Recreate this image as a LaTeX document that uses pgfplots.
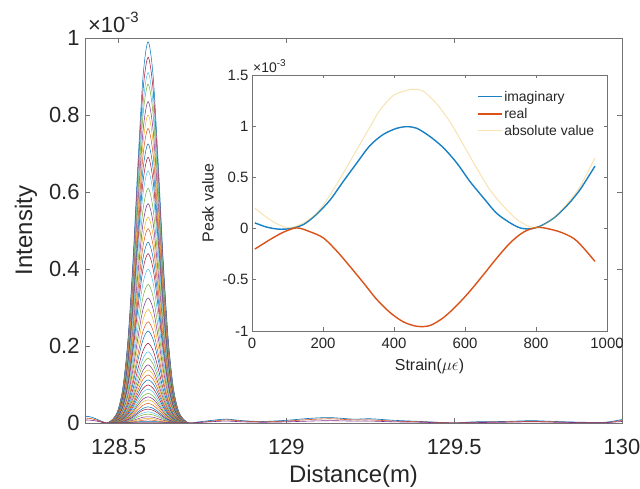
\documentclass[border=0pt]{standalone}
\usepackage{fontspec}
\setmainfont{Liberation Sans}
\usepackage{pgfplots}
\pgfplotsset{compat=1.18}
\definecolor{mB}{rgb}{0,0.447,0.741}
\definecolor{mO}{rgb}{0.85,0.325,0.098}
\definecolor{mY}{rgb}{0.929,0.694,0.125}
\definecolor{mP}{rgb}{0.494,0.184,0.556}
\definecolor{mG}{rgb}{0.466,0.674,0.188}
\definecolor{mC}{rgb}{0.301,0.745,0.933}
\definecolor{mR}{rgb}{0.635,0.078,0.184}
\definecolor{axgray}{gray}{0.45}
\definecolor{txt}{gray}{0.15}
\pgfplotscreateplotcyclelist{matrev}{{mB},{mR},{mC},{mG},{mP},{mY},{mO}}
% one peak: arguments are the values read at offsets 0, 0.015, ..., 0.105 m from the centre 128.588 m
\newcommand\pk[8]{\addplot coordinates {(128.468,0)(128.483,#8)(128.498,#7)(128.513,#6)(128.528,#5)(128.543,#4)(128.558,#3)(128.573,#2)(128.588,#1)(128.603,#2)(128.618,#3)(128.633,#4)(128.648,#5)(128.663,#6)(128.678,#7)(128.693,#8)(128.708,0)};}
\begin{document}
\begin{tikzpicture}
\useasboundingbox (0,0) rectangle (640bp,489bp);
\begin{axis}[name=main,
 at={(85bp,66bp)}, anchor=south west, scale only axis, width=537bp, height=385bp,
 xmin=128.4, xmax=130, ymin=0, ymax=1,
 xtick={128.5,129,129.5,130}, xticklabels={128.5,129,129.5,130},
 ytick={0,0.2,0.4,0.6,0.8,1}, yticklabels={0,0.2,0.4,0.6,0.8,1},
 tick align=inside, major tick length=5bp,
 axis line style={axgray, line width=0.6bp}, tick style={axgray, line width=0.6bp},
 /pgf/number format/assume math mode=true,
 tick label style={font=\fontsize{22}{22}\selectfont, text=txt},
 xticklabel style={yshift=-13bp},
 yticklabel style={xshift=-2bp},
 label style={font=\fontsize{24}{24}\selectfont, text=txt},
 xlabel={Distance(m)}, ylabel={Intensity},
 xlabel style={at={(axis description cs:0.5,-0.167)}, anchor=south, inner sep=0pt},
 ylabel style={at={(axis description cs:-0.11,0.5)}, anchor=center},
 cycle list name=matrev,
 every axis plot/.append style={line width=0.5bp, smooth, no markers},
]
\pk{0.99}{0.901}{0.678}{0.423}{0.218}{0.093}{0.033}{0.010}
\pk{0.95}{0.865}{0.651}{0.406}{0.209}{0.089}{0.031}{0.010}
\pk{0.91}{0.828}{0.623}{0.389}{0.200}{0.086}{0.030}{0.009}
\pk{0.88}{0.801}{0.603}{0.376}{0.194}{0.083}{0.029}{0.009}
\pk{0.835}{0.760}{0.572}{0.357}{0.184}{0.078}{0.028}{0.008}
\pk{0.80}{0.728}{0.548}{0.342}{0.176}{0.075}{0.026}{0.008}
\pk{0.765}{0.696}{0.524}{0.327}{0.168}{0.072}{0.025}{0.008}
\pk{0.725}{0.660}{0.497}{0.310}{0.160}{0.068}{0.024}{0.007}
\pk{0.69}{0.628}{0.473}{0.295}{0.152}{0.065}{0.023}{0.007}
\pk{0.655}{0.596}{0.449}{0.280}{0.144}{0.062}{0.022}{0.007}
\pk{0.61}{0.555}{0.418}{0.260}{0.134}{0.057}{0.020}{0.006}
\pk{0.57}{0.519}{0.390}{0.243}{0.125}{0.054}{0.019}{0.006}
\pk{0.535}{0.487}{0.366}{0.228}{0.118}{0.050}{0.018}{0.005}
\pk{0.505}{0.460}{0.346}{0.216}{0.111}{0.047}{0.017}{0.005}
\pk{0.47}{0.428}{0.322}{0.201}{0.103}{0.044}{0.016}{0.005}
\pk{0.44}{0.400}{0.301}{0.188}{0.097}{0.041}{0.015}{0.004}
\pk{0.40}{0.364}{0.274}{0.171}{0.088}{0.038}{0.013}{0.004}
\pk{0.36}{0.328}{0.247}{0.154}{0.079}{0.034}{0.012}{0.004}
\pk{0.325}{0.296}{0.223}{0.139}{0.072}{0.031}{0.011}{0.003}
\pk{0.295}{0.268}{0.202}{0.126}{0.065}{0.028}{0.010}{0.003}
\pk{0.263}{0.239}{0.180}{0.112}{0.058}{0.025}{0.009}{0.003}
\pk{0.239}{0.217}{0.164}{0.102}{0.053}{0.022}{0.008}{0.002}
\pk{0.207}{0.188}{0.142}{0.088}{0.046}{0.019}{0.007}{0.002}
\pk{0.185}{0.168}{0.127}{0.079}{0.041}{0.017}{0.006}{0.002}
\pk{0.168}{0.153}{0.115}{0.072}{0.037}{0.016}{0.006}{0.002}
\pk{0.151}{0.137}{0.103}{0.064}{0.033}{0.014}{0.005}{0.002}
\pk{0.138}{0.126}{0.095}{0.059}{0.030}{0.013}{0.005}{0.001}
\pk{0.125}{0.114}{0.086}{0.053}{0.028}{0.012}{0.004}{0.001}
\pk{0.112}{0.102}{0.077}{0.048}{0.025}{0.011}{0.004}{0.001}
\pk{0.099}{0.090}{0.068}{0.042}{0.022}{0.009}{0.003}{0.001}
\pk{0.088}{0.080}{0.060}{0.038}{0.019}{0.008}{0.003}{0.001}
\pk{0.077}{0.070}{0.053}{0.033}{0.017}{0.007}{0.003}{0.001}
\pk{0.068}{0.062}{0.047}{0.029}{0.015}{0.006}{0.002}{0.001}
\pk{0.060}{0.055}{0.041}{0.026}{0.013}{0.006}{0.002}{0.001}
\pk{0.051}{0.046}{0.035}{0.022}{0.011}{0.005}{0.002}{0.001}
\pk{0.042}{0.038}{0.029}{0.018}{0.009}{0.004}{0.001}{0}
\pk{0.036}{0.033}{0.025}{0.015}{0.008}{0.003}{0.001}{0}
\pk{0.029}{0.026}{0.020}{0.012}{0.006}{0.003}{0.001}{0}
\pk{0.023}{0.021}{0.016}{0.010}{0.005}{0.002}{0.001}{0}
\pk{0.016}{0.015}{0.011}{0.007}{0.004}{0.002}{0}{0}
\pk{0.012}{0.011}{0.008}{0.005}{0.003}{0.001}{0}{0}
\pk{0.008}{0.007}{0.005}{0.003}{0.002}{0.001}{0}{0}
\pk{0.004}{0.004}{0.003}{0.002}{0.001}{0}{0}{0}
% baseline ripples
\addplot[mB, line width=0.6bp, smooth] coordinates {(128.40,0.018)(128.42,0.015)(128.44,0.008)(128.46,0.001)(128.47,0)(128.70,0)(128.73,0.002)(128.77,0.006)(128.82,0.010)(128.87,0.006)(128.93,0.004)(129.00,0.007)(129.07,0.012)(129.13,0.014)(129.20,0.010)(129.25,0.011)(129.32,0.007)(129.40,0.004)(129.47,0.001)(129.50,0)(129.56,0.003)(129.65,0.004)(129.73,0.006)(129.80,0.004)(129.88,0.002)(129.95,0.002)(130.00,0.009)};
\addplot[mO, line width=0.6bp, smooth] coordinates {(128.40,0.013)(128.42,0.011)(128.44,0.006)(128.46,0.001)(128.47,0)(128.70,0)(128.73,0.001)(128.77,0.004)(128.82,0.008)(128.87,0.005)(128.93,0.003)(129.00,0.005)(129.07,0.009)(129.13,0.011)(129.20,0.008)(129.25,0.008)(129.32,0.005)(129.40,0.003)(129.47,0.001)(129.50,0)(129.56,0.002)(129.65,0.003)(129.73,0.004)(129.80,0.003)(129.88,0.001)(129.95,0.001)(130.00,0.007)};
\addplot[mP, line width=0.6bp, smooth] coordinates {(128.40,0.008)(128.42,0.007)(128.44,0.004)(128.46,0)(128.47,0)(128.70,0)(128.73,0.001)(128.77,0.003)(128.82,0.005)(128.87,0.003)(128.93,0.002)(129.00,0.003)(129.07,0.005)(129.13,0.006)(129.20,0.005)(129.25,0.005)(129.32,0.003)(129.40,0.002)(129.47,0)(129.50,0)(129.56,0.001)(129.65,0.002)(129.73,0.003)(129.80,0.002)(129.88,0.001)(129.95,0.001)(130.00,0.004)};
\end{axis}
\node[anchor=base west, inner sep=0pt, text=txt, font=\fontsize{22}{22}\selectfont] at ([xshift=3bp, yshift=5bp]main.north west) {×10\raisebox{0.5em}{\fontsize{15}{15}\selectfont -3}};

\begin{axis}[name=inset,
 at={(252bp,158bp)}, anchor=south west, scale only axis, width=355bp, height=256bp,
 xmin=0, xmax=1000, ymin=-1, ymax=1.5,
 xtick={0,200,400,600,800,1000}, xticklabels={0,200,400,600,800,1000},
 ytick={-1,-0.5,0,0.5,1,1.5}, yticklabels={-1,-0.5,0,0.5,1,1.5},
 axis background/.style={fill=white},
 tick align=inside, major tick length=3.5bp,
 axis line style={axgray, line width=0.6bp}, tick style={axgray, line width=0.6bp},
 /pgf/number format/assume math mode=true,
 tick label style={font=\fontsize{15}{15}\selectfont, text=txt},
 xticklabel style={yshift=-4bp},
 label style={font=\fontsize{16}{16}\selectfont, text=txt},
 xlabel={Strain($\mu\epsilon$)}, ylabel={Peak value},
 xlabel style={at={(axis description cs:0.5,-0.14)}, anchor=center},
 ylabel style={at={(axis description cs:-0.124,0.5)}, anchor=center},
 legend style={at={(axis description cs:0.63,0.95)}, anchor=north west, draw=none, fill=none,
   font=\fontsize{14}{14}\selectfont, text=txt, row sep=1.5bp, inner sep=1bp},
 legend cell align=left,
 legend image code/.code={\draw[line width=1.4bp] (0bp,0bp) -- (24bp,0bp);},
]
\addplot[mB!90!white, line width=1.4bp, smooth] coordinates {(8,0.056)(41,0.015)(74,-0.005)(107,0.0)(145,0.04)(182,0.14)(220,0.28)(257,0.46)(295,0.64)(332,0.81)(370,0.92)(408,0.98)(436,0.995)(464,0.98)(501,0.90)(539,0.79)(577,0.64)(614,0.46)(652,0.30)(689,0.15)(727,0.056)(755,0.007)(783,-0.003)(811,0.023)(849,0.10)(886,0.22)(924,0.38)(966,0.61)};
\addlegendentry{imaginary}
\addplot[mO, line width=1.4bp, smooth] coordinates {(8,-0.20)(51,-0.107)(88,-0.036)(126,0.007)(163,-0.03)(201,-0.091)(239,-0.22)(276,-0.37)(314,-0.53)(351,-0.69)(389,-0.82)(426,-0.91)(464,-0.954)(501,-0.947)(539,-0.87)(577,-0.75)(614,-0.61)(652,-0.45)(689,-0.29)(727,-0.14)(764,-0.036)(802,0.012)(839,-0.005)(877,-0.045)(915,-0.12)(966,-0.32)};
\addlegendentry{real}
\addplot[mY, draw opacity=0.35, line width=1bp, smooth, legend image code/.code={\draw[line width=1bp] (0bp,0bp) -- (24bp,0bp);}] coordinates {(8,0.20)(41,0.11)(74,0.04)(107,0.007)(145,0.055)(182,0.15)(220,0.33)(257,0.54)(295,0.77)(332,0.99)(360,1.155)(398,1.30)(436,1.35)(455,1.36)(483,1.34)(520,1.22)(558,1.04)(595,0.82)(633,0.59)(670,0.38)(708,0.22)(746,0.09)(783,0.017)(811,0.017)(849,0.105)(886,0.235)(924,0.41)(966,0.69)};
\addlegendentry{absolute value}
\end{axis}
\node[anchor=base west, inner sep=0pt, text=txt, font=\fontsize{14}{14}\selectfont] at ([xshift=1bp, yshift=2bp]inset.north west) {×10\raisebox{0.5em}{\fontsize{10}{10}\selectfont -3}};
\end{tikzpicture}
\end{document}
